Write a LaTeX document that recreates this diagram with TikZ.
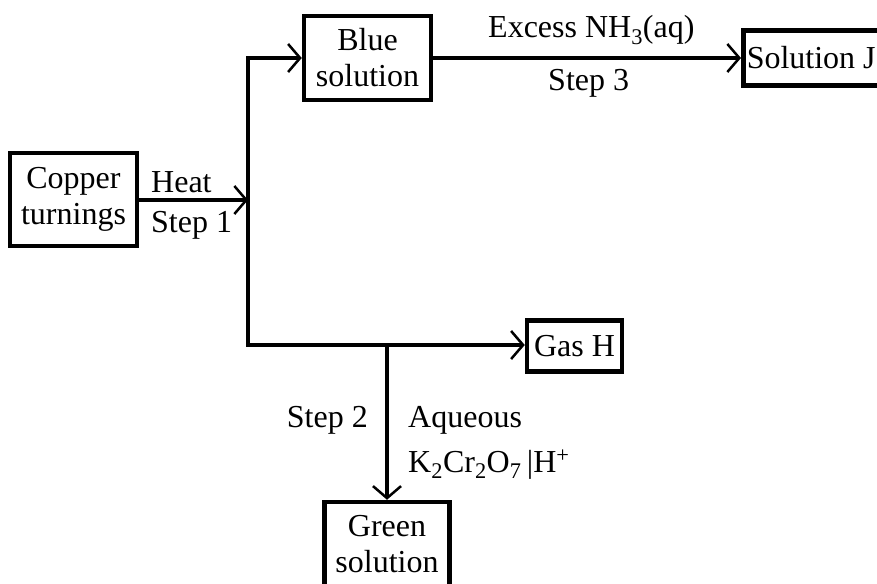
\documentclass[tikz,border=0pt]{standalone}
\usepackage{fontspec}
\setmainfont{Liberation Serif}
\usetikzlibrary{arrows.meta}
\begin{document}
\begin{tikzpicture}[x=1pt,y=-1pt,
  box/.style={draw, line width=4.5pt, inner sep=0pt, align=center,
    font=\fontsize{32}{36}\selectfont},
  lbl/.style={inner sep=0pt, font=\fontsize{32}{36}\selectfont},
  arr/.style={line width=4.5pt, -{Straight Barb[length=12pt,width=28pt,line width=2.5pt]}}]
\useasboundingbox (0,0) rectangle (877,583);
\node[box, minimum width=127pt, minimum height=93pt] (copper) at (73.5,199.5) {Copper\\turnings};
\node[box, minimum width=127pt, minimum height=84pt] (blue) at (367.5,58) {Blue\\solution};
\node[box, anchor=west, minimum height=55pt, inner xsep=3.5pt] (solj) at (741,58) {Solution J};
\node[box, minimum width=95pt, minimum height=51pt] (gash) at (574.5,346) {Gas H};
\node[box, minimum width=125pt, minimum height=84pt] (green) at (387,544) {Green\\solution};
\coordinate (jt) at (248,58);
\coordinate (jm) at (248,200);
\coordinate (jb) at (248,345);
\coordinate (jd) at (387,345);
\draw[arr] (copper.east |- jm) -- (jm);
\draw[arr] (jb) -- (jt) -- (blue.west);
\draw[arr] (jt) -- (jb) -- (gash.west |- jb);
\draw[arr] (jd) -- (green.north);
\draw[arr] (blue.east) -- (solj.west);
\node[lbl, anchor=base west] (heat) at (151,192) {Heat};
\node[lbl, anchor=base west] (step1) at (151,232) {Step 1};
\node[lbl, anchor=base west] (nh3) at (488,38) {Excess NH\textsubscript{3}(aq)};
\node[lbl, anchor=base west] (step3) at (548,91) {Step 3};
\node[lbl, anchor=base east] (step2) at (368,427) {Step 2};
\node[lbl, anchor=base west] (aq) at (408,427) {Aqueous};
\node[lbl, anchor=base west] (k2) at (408,472) {K\textsubscript{2}Cr\textsubscript{2}O\textsubscript{7}\,|H\textsuperscript{+}};
\end{tikzpicture}
\end{document}
